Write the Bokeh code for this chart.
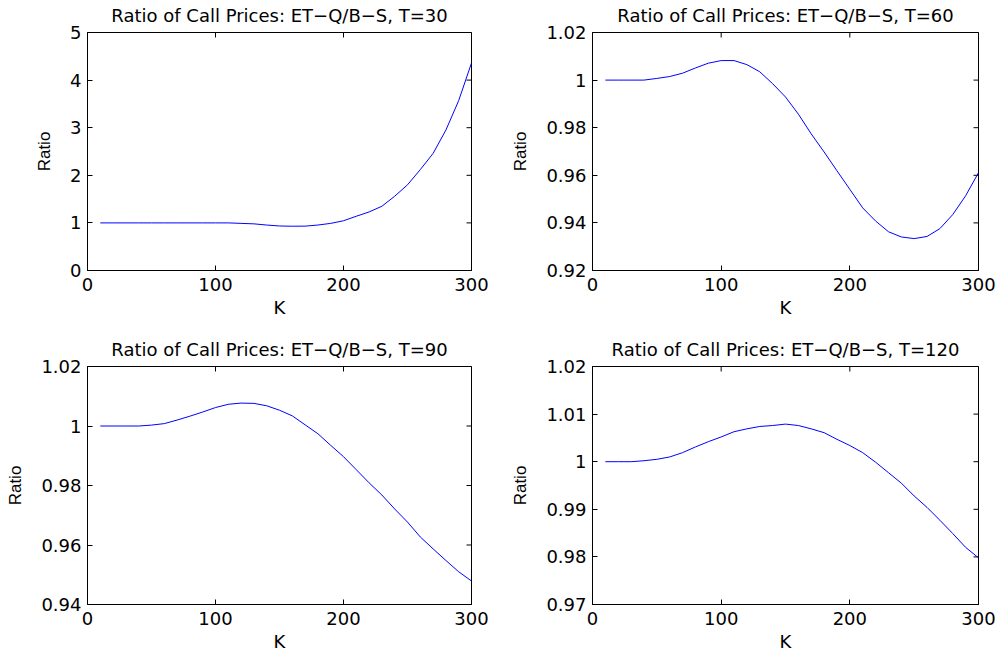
import math

from bokeh.plotting import figure
from bokeh.layouts import column, row
from bokeh.models import Range1d, FixedTicker, CustomJSTickFormatter
from bokeh.embed import file_html
from bokeh.resources import INLINE

# Strike grid shared by all four maturities
strike = list(range(10, 301, 10))

# Ratio of ET-Q call price to Black-Scholes call price
ratio_t30 = [1.0, 1.0, 1.0, 1.0, 1.0, 1.0, 1.0, 1.0, 1.0, 1.0,
             1.0, 0.99, 0.98, 0.955, 0.935, 0.93, 0.932, 0.955, 0.99, 1.045,
             1.14, 1.23, 1.35, 1.56, 1.80, 2.12, 2.46, 2.95, 3.57, 4.36]
ratio_t60 = [1.0, 1.0, 1.0, 1.0, 1.0007, 1.0015, 1.0029, 1.0051, 1.0071, 1.0082,
             1.0082, 1.0065, 1.0035, 0.9985, 0.9929, 0.9857, 0.9774, 0.9698, 0.9619, 0.9541,
             0.9463, 0.9408, 0.9363, 0.9341, 0.9334, 0.9343, 0.9376, 0.9435, 0.9514, 0.9611]
ratio_t90 = [1.0, 1.0, 1.0, 1.0, 1.0003, 1.0008, 1.002, 1.0033, 1.0047, 1.0062,
             1.0073, 1.0077, 1.0076, 1.0068, 1.0053, 1.0034, 1.0004, 0.9974, 0.9935, 0.9897,
             0.9853, 0.9809, 0.9768, 0.9721, 0.9677, 0.9627, 0.9587, 0.9548, 0.951, 0.9479]
ratio_t120 = [1.0, 1.0, 1.0, 1.0002, 1.0005, 1.001, 1.0019, 1.0031, 1.0042, 1.0052,
              1.0063, 1.0069, 1.0074, 1.0076, 1.0079, 1.0076, 1.0069, 1.0061, 1.0047, 1.0034,
              1.0019, 0.9999, 0.9977, 0.9955, 0.9928, 0.9904, 0.9877, 0.9849, 0.982, 0.9798]

maturities = [30, 60, 90, 120]
x_ticks = [0, 100, 200, 300]
y_ticks_t30 = [0, 1, 2, 3, 4, 5]
y_ticks_t60 = [0.92, 0.94, 0.96, 0.98, 1.0, 1.02]
y_ticks_t90 = [0.94, 0.96, 0.98, 1.0, 1.02]
y_ticks_t120 = [0.97, 0.98, 0.99, 1.0, 1.01, 1.02]

FONT = "DejaVu Sans"
fmt_code = "return String(Number(tick.toFixed(6)));"


def style_axis(ax):
    ax.axis_line_color = "black"
    ax.axis_line_width = 1
    ax.major_tick_in = 5
    ax.major_tick_out = 0
    ax.major_tick_line_color = "black"
    ax.minor_tick_line_color = None
    ax.major_label_text_font = FONT
    ax.major_label_text_font_size = "18px"
    ax.major_label_text_color = "black"
    ax.formatter = CustomJSTickFormatter(code=fmt_code)


def panel(T, ratios, y_ticks, borders):
    left, right, top, bottom = borders
    x_lo, x_hi = x_ticks[0], x_ticks[-1]
    y_lo, y_hi = y_ticks[0], y_ticks[-1]
    p = figure(width=500, height=327, output_backend="svg", toolbar_location=None,
               x_range=Range1d(x_lo, x_hi), y_range=Range1d(y_lo, y_hi),
               min_border_left=left, min_border_right=right,
               min_border_top=top, min_border_bottom=bottom,
               background_fill_color="white", border_fill_color="white")
    p.title.text = "Ratio of Call Prices: ET\u2212Q/B\u2212S, T=%d" % T
    p.title.text_font = FONT
    p.title.text_font_size = "18px"
    p.title.text_font_style = "normal"
    p.title.text_color = "black"
    p.title.align = "center"
    p.title.vertical_align = "top"
    p.title.standoff = 9
    p.grid.visible = False
    p.outline_line_color = "black"
    p.outline_line_width = 1

    p.xaxis.ticker = FixedTicker(ticks=x_ticks)
    p.yaxis.ticker = FixedTicker(ticks=y_ticks)
    style_axis(p.xaxis[0])
    style_axis(p.yaxis[0])
    p.xaxis.major_label_standoff = 7
    p.yaxis.major_label_standoff = 6

    p.xaxis.axis_label = "K"
    p.xaxis.axis_label_text_font = FONT
    p.xaxis.axis_label_text_font_size = "18px"
    p.xaxis.axis_label_text_font_style = "normal"
    p.xaxis.axis_label_text_color = "black"
    p.xaxis.axis_label_standoff = 3
    p.yaxis.axis_label = "Ratio"
    p.yaxis.axis_label_text_font = "Liberation Sans"
    p.yaxis.axis_label_text_font_size = "17px"
    p.yaxis.axis_label_text_font_style = "normal"
    p.yaxis.axis_label_text_color = "black"
    p.yaxis.axis_label_standoff = 13

    # inward tick marks along the top and right edges of the box
    p.scatter(x=x_ticks, y=[y_hi] * len(x_ticks), marker="dash", angle=math.pi / 2,
              size=10, line_color="black", line_width=1)
    p.scatter(x=[x_hi] * len(y_ticks), y=y_ticks, marker="dash",
              size=10, line_color="black", line_width=1)

    p.line(strike, ratios, line_color="#0000ff", line_width=1)
    return p


p1 = panel(maturities[0], ratio_t30, y_ticks_t30, (87, 29, 31, 55))
p2 = panel(maturities[1], ratio_t60, y_ticks_t60, (92, 22, 29, 57))
p3 = panel(maturities[2], ratio_t90, y_ticks_t90, (87, 29, 37, 47))
p4 = panel(maturities[3], ratio_t120, y_ticks_t120, (92, 22, 39, 46))

layout = column(row(p1, p2), row(p3, p4))
open("out.html", "w").write(file_html(layout, INLINE))
